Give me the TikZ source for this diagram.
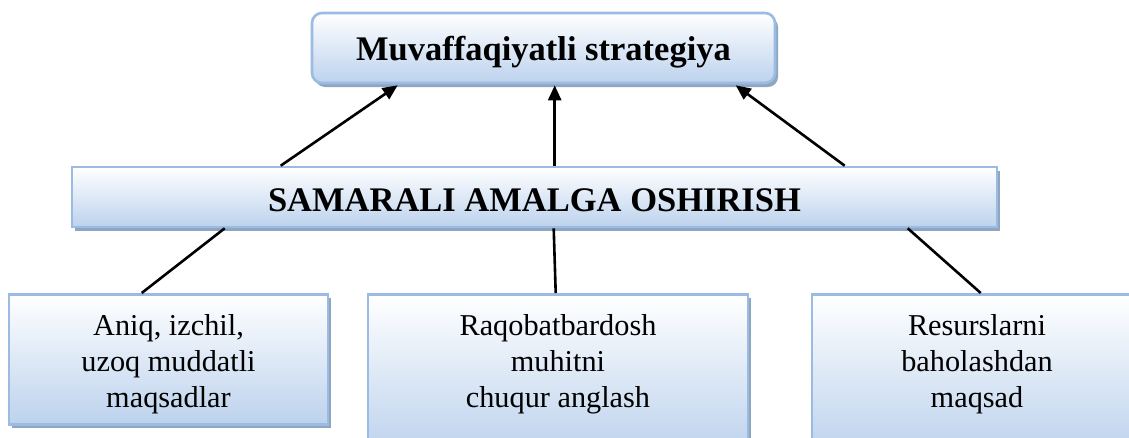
\documentclass[tikz,border=0pt]{standalone}
\usepackage{fontspec}
\setmainfont{Liberation Serif}
\usetikzlibrary{arrows.meta,shadows}
\definecolor{boxedge}{RGB}{155,187,226}
\definecolor{boxlow}{RGB}{188,210,237}
\definecolor{boxshade}{RGB}{143,166,192}
\tikzset{
  panel/.style={draw=boxedge, line width=2.6pt, top color=white, bottom color=boxlow,
    inner sep=0pt, drop shadow={shadow xshift=3pt, shadow yshift=-4pt, fill=boxshade, opacity=1}},
  headbox/.style={panel, rounded corners=10pt},
  bigtext/.style={font=\fontsize{34.5}{40}\selectfont\bfseries},
  smalltext/.style={font=\fontsize{30.3}{36.3}\selectfont, align=center, inner sep=0pt},
  link/.style={line width=2.6pt, black},
  uparrow/.style={link, -{Triangle[length=15pt,width=13pt]}}
}
\begin{document}
\begin{tikzpicture}[x=1pt,y=-1pt]
  \useasboundingbox (0,0) rectangle (1129,437);
  \clip (0,0) rectangle (1129,437);

  % top goal box
  \node[headbox, minimum width=463pt, minimum height=70pt] (goal) at (543.5,48) {};
  \node[bigtext] (goaltxt) at ([yshift=-4pt]goal.center) {Muvaffaqiyatli strategiya};

  % implementation bar
  \node[panel, minimum width=925pt, minimum height=60pt] (impl) at (534.5,197) {};
  \node[bigtext] (impltxt) at ([yshift=-3pt]impl.center) {SAMARALI AMALGA OSHIRISH};

  % three factor boxes
  \node[panel, minimum width=319pt, minimum height=130pt, anchor=north] (fa) at (168.5,293) {};
  \node[panel, minimum width=380pt, minimum height=160pt, anchor=north] (fb) at (558,293) {};
  \node[panel, minimum width=330pt, minimum height=160pt, anchor=north] (fc) at (977,293) {};

  \node[smalltext, anchor=north] (ta) at ([yshift=-21pt]fa.north) {Aniq, izchil,\\uzoq muddatli\\maqsadlar};
  \node[smalltext, anchor=north] (tb) at ([yshift=-21pt]fb.north) {Raqobatbardosh\\muhitni\\chuqur anglash};
  \node[smalltext, anchor=north] (tc) at ([yshift=-21pt]fc.north) {Resurslarni\\baholashdan\\maqsad};

  % arrows up to the goal
  \draw[uparrow] ([xshift=210pt]impl.north west) -- ([xshift=87pt,yshift=-1pt]goal.south west);
  \draw[uparrow] ([xshift=484pt]impl.north west) -- ([xshift=244pt,yshift=-1pt]goal.south west);
  \draw[uparrow] ([xshift=774pt]impl.north west) -- ([xshift=425pt,yshift=-1pt]goal.south west);

  % plain links down to the factors
  \draw[link] ([xshift=154pt]impl.south west) -- ([xshift=134pt]fa.north west);
  \draw[link] ([xshift=483pt]impl.south west) -- ([xshift=189pt]fb.north west);
  \draw[link] ([xshift=837pt]impl.south west) -- ([xshift=170pt]fc.north west);
\end{tikzpicture}
\end{document}
